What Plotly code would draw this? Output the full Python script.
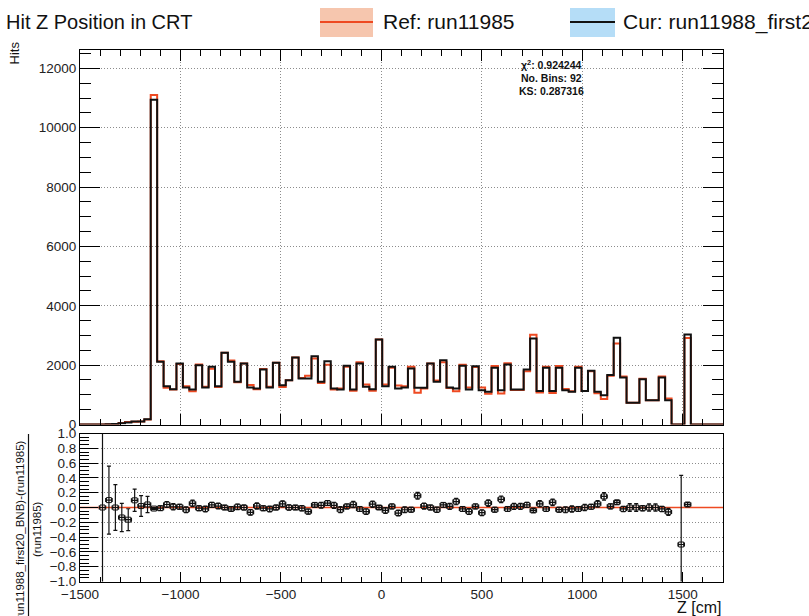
import plotly.graph_objects as go

# Binning: 100 bins of 32 cm from -1500 to 1700
z_lo, z_hi, n_bins = -1500, 1700, 100

# Hit counts per bin, reference run (run11985)
ref_counts = [
    0, 0, 0, 1, 10, 21, 52, 85, 93, 103,
    170, 11100, 2133, 1242, 1179, 2037, 1286, 1118, 2020, 1272,
    1879, 1267, 2416, 2155, 1425, 2057, 1334, 1190, 1874, 1272,
    2079, 1263, 1495, 2259, 1567, 1641, 2226, 1397, 2014, 1179,
    1216, 1948, 1135, 2099, 1344, 1140, 2867, 1346, 1916, 1312,
    1286, 1946, 1066, 1212, 2057, 1484, 2096, 1229, 1124, 2017,
    1249, 1938, 1244, 1039, 1970, 1042, 2064, 1163, 1163, 1792,
    3021, 1079, 1950, 1059, 1970, 1193, 1123, 1950, 1133, 1792,
    1049, 860, 1639, 2730, 1617, 729, 729, 1544, 820, 820,
    1617, 872, 0, 2, 2919, 0, 0, 0, 0, 0,
]

# Hit counts per bin, current run (run11988_first20_BNB)
cur_counts = [
    0, 0, 0, 1, 11, 21, 45, 71, 102, 105,
    177, 10940, 2112, 1292, 1191, 2057, 1247, 1180, 2000, 1247,
    1945, 1292, 2416, 2112, 1439, 2057, 1247, 1214, 1855, 1247,
    2079, 1326, 1495, 2259, 1551, 1551, 2304, 1439, 2135, 1214,
    1180, 1977, 1180, 2057, 1270, 1191, 2867, 1292, 1945, 1214,
    1247, 1888, 1236, 1236, 2057, 1439, 2169, 1247, 1214, 1977,
    1180, 1967, 1157, 1101, 1911, 1157, 2023, 1180, 1180, 1855,
    2900, 1133, 1911, 1133, 1911, 1157, 1101, 1911, 1133, 1810,
    1101, 989, 1664, 2921, 1585, 729, 729, 1529, 820, 820,
    1585, 820, 0, 1, 3036, 0, 0, 0, 0, 0,
]

x_tick_vals = [-1500, -1000, -500, 0, 500, 1000, 1500]
stats_lines = ["χ<sup>2</sup>: 0.924244", "No. Bins: 92", "KS: 0.287316"]

W, H = 809, 616
REF_COLOR = "#ee4a22"
CUR_COLOR = "#111111"
FONT = "Liberation Sans, Arial, Helvetica, sans-serif"


def px_x(p):
    return p / W


def px_y(p):
    return 1 - p / H


width = (z_hi - z_lo) / n_bins
edges = [z_lo + i * width for i in range(n_bins + 1)]
centers = [z_lo + (i + 0.5) * width for i in range(n_bins)]

# (cur - ref) / ref with statistical errors
r_x, r_y, r_err = [], [], []
for c, r, x in zip(cur_counts, ref_counts, centers):
    if r <= 0:
        continue
    r_x.append(x)
    r_y.append((c - r) / r)
    r_err.append(((c + r) * r * r + r * (c - r) ** 2) ** 0.5 / (r * r))


def step(vals):
    return edges, list(vals) + [vals[-1]]


fig = go.Figure()

sx, sy = step(ref_counts)
fig.add_trace(go.Scatter(x=sx, y=sy, mode="lines", line=dict(color=REF_COLOR, width=2, shape="hv"),
                         xaxis="x2", yaxis="y2", showlegend=False, hoverinfo="skip"))
sx, sy = step(cur_counts)
fig.add_trace(go.Scatter(x=sx, y=sy, mode="lines", line=dict(color=CUR_COLOR, width=2, shape="hv"),
                         xaxis="x2", yaxis="y2", showlegend=False, hoverinfo="skip"))

fig.add_trace(go.Scatter(x=[z_lo, z_hi], y=[0, 0], mode="lines", line=dict(color=REF_COLOR, width=1.5),
                         xaxis="x", yaxis="y", showlegend=False, hoverinfo="skip"))
fig.add_trace(go.Scatter(
    x=r_x, y=r_y, mode="markers",
    marker=dict(symbol="square-open", size=5, color=CUR_COLOR, line=dict(width=1, color=CUR_COLOR)),
    error_y=dict(type="data", array=r_err, color=CUR_COLOR, thickness=1.2, width=2),
    error_x=dict(type="constant", value=width / 2, color=CUR_COLOR, thickness=1.2, width=2),
    xaxis="x", yaxis="y", showlegend=False, cliponaxis=True))

# pixel geometry of the two frames
fx0, fx1 = 80, 723
main_top, main_bot = 50, 424.5
rat_top, rat_bot = 433.5, 581.5

tickfont = dict(family=FONT, size=13.5, color="#222")
grid = dict(gridcolor="#8c8c8c", griddash="1px,2px", gridwidth=1)

fig.update_layout(
    width=W, height=H, margin=dict(l=0, r=0, t=0, b=0, autoexpand=False),
    paper_bgcolor="white", plot_bgcolor="white", showlegend=False,
    xaxis=dict(domain=[px_x(fx0), px_x(fx1)], range=[z_lo, z_hi], anchor="y", automargin=False,
               tickvals=x_tick_vals, ticks="inside", ticklen=10, tickcolor="black",
               minor=dict(dtick=100, tick0=z_lo, ticks="inside", ticklen=5, tickcolor="black", showgrid=False),
               showline=True, linecolor="black", linewidth=1, mirror=True,
               showgrid=False, zeroline=False, tickfont=dict(family=FONT, size=13.5, color="#222")),
    yaxis=dict(domain=[px_y(rat_bot), px_y(rat_top)], range=[-1.0, 1.0], anchor="x", automargin=False,
               dtick=0.2, tick0=0, tickformat=".1f", ticks="inside", ticklen=18, tickcolor="black",
               minor=dict(dtick=0.05, tick0=0, ticks="inside", ticklen=9, tickcolor="black", showgrid=False),
               showline=True, linecolor="black", linewidth=1, mirror=True,
               showgrid=True, zeroline=False, tickfont=tickfont, **grid),
    xaxis2=dict(domain=[px_x(fx0), px_x(fx1)], range=[z_lo, z_hi], anchor="y2", matches="x", automargin=False,
                tickvals=x_tick_vals, ticks="inside", ticklen=11, tickcolor="black",
                minor=dict(dtick=100, tick0=z_lo, ticks="inside", ticklen=6, tickcolor="black", showgrid=False),
                showline=True, linecolor="black", linewidth=1, mirror="ticks",
                showticklabels=False, showgrid=True, zeroline=False, **grid),
    yaxis2=dict(domain=[px_y(main_bot), px_y(main_top)], range=[0, 12620], anchor="x2", automargin=False,
                dtick=2000, tick0=0, tickformat="d", ticks="inside", ticklen=20, tickcolor="black",
                minor=dict(dtick=500, tick0=0, ticks="inside", ticklen=11, tickcolor="black", showgrid=False),
                showline=True, linecolor="black", linewidth=1, mirror="ticks",
                showgrid=True, zeroline=False, tickfont=tickfont, **grid),
)

ann = []
# title
ann.append(dict(text="Hit Z Position in CRT", x=px_x(4), y=px_y(22), xref="paper", yref="paper",
                xanchor="left", yanchor="middle", showarrow=False,
                font=dict(family=FONT, size=20, color="#111")))
# legend entries
ann.append(dict(text="Ref: run11985", x=px_x(381), y=px_y(22), xref="paper", yref="paper",
                xanchor="left", yanchor="middle", showarrow=False,
                font=dict(family=FONT, size=21, color="#111")))
ann.append(dict(text="Cur: run11988_first20_BNB", x=px_x(621), y=px_y(22), xref="paper", yref="paper",
                xanchor="left", yanchor="middle", showarrow=False,
                font=dict(family=FONT, size=21, color="#111")))
# statistics box
for i, line in enumerate(stats_lines):
    ann.append(dict(text="<b>%s</b>" % line, x=px_x(551), y=px_y(64 + 13.5 * i), xref="paper", yref="paper",
                    xanchor="center", yanchor="middle", showarrow=False,
                    font=dict(family=FONT, size=10.5, color="#111")))
# axis titles
ann.append(dict(text="Hits", x=px_x(14), y=px_y(40), xref="paper", yref="paper", textangle=-90,
                xanchor="center", yanchor="top", showarrow=False,
                font=dict(family=FONT, size=13, color="#111")))
ann.append(dict(text="Z [cm]", x=px_x(723), y=px_y(607), xref="paper", yref="paper",
                xanchor="right", yanchor="middle", showarrow=False,
                font=dict(family=FONT, size=16, color="#111")))
ann.append(dict(text="(run11988_first20_BNB)-(run11985)", x=px_x(20), y=px_y(532), xref="paper", yref="paper",
                textangle=-90, xanchor="center", yanchor="middle", showarrow=False,
                font=dict(family=FONT, size=11.5, color="#111")))
ann.append(dict(text="(run11985)", x=px_x(37), y=px_y(529), xref="paper", yref="paper",
                textangle=-90, xanchor="center", yanchor="middle", showarrow=False,
                font=dict(family=FONT, size=11.5, color="#111")))
fig.update_layout(annotations=ann)

shapes = [
    # legend swatches
    dict(type="rect", xref="paper", yref="paper", x0=px_x(320), x1=px_x(373), y0=px_y(37), y1=px_y(8),
         fillcolor="#f6c6ae", line=dict(width=0), layer="above"),
    dict(type="line", xref="paper", yref="paper", x0=px_x(320), x1=px_x(373), y0=px_y(22), y1=px_y(22),
         line=dict(color=REF_COLOR, width=2), layer="above"),
    dict(type="rect", xref="paper", yref="paper", x0=px_x(570), x1=px_x(615), y0=px_y(37), y1=px_y(8),
         fillcolor="#b5ddf7", line=dict(width=0), layer="above"),
    dict(type="line", xref="paper", yref="paper", x0=px_x(570), x1=px_x(615), y0=px_y(22), y1=px_y(22),
         line=dict(color=CUR_COLOR, width=2), layer="above"),
    # fraction bar of the ratio axis title
    dict(type="line", xref="paper", yref="paper", x0=px_x(28.5), x1=px_x(28.5), y0=px_y(434), y1=px_y(626),
         line=dict(color="#111", width=1.2), layer="above"),
]
fig.update_layout(shapes=shapes)

fig.write_html("out.html")
